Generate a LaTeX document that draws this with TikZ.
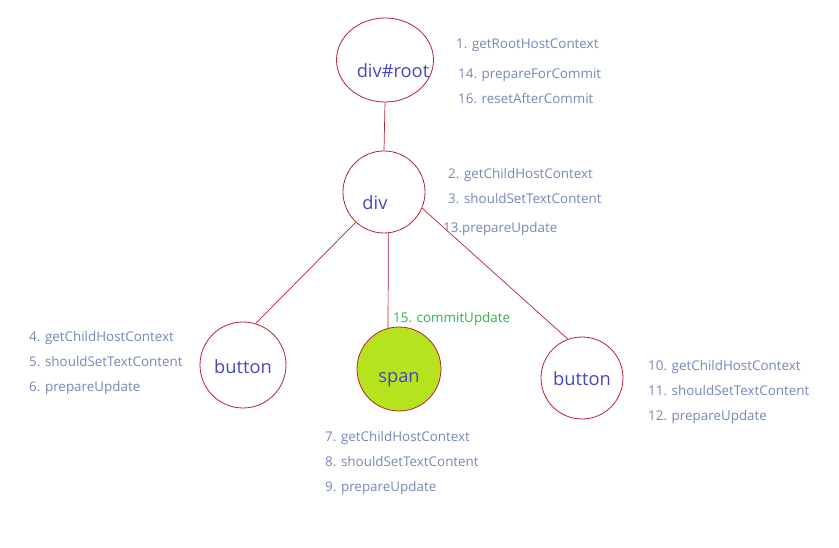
\documentclass[tikz,border=0pt]{standalone}
\usepackage{fontspec}
\setmainfont{Open Sans}
\usetikzlibrary{shapes.geometric}
\definecolor{edgered}{HTML}{B8213A}
\definecolor{nodeblue}{HTML}{4646C0}
\definecolor{lblgray}{HTML}{7488B8}
\definecolor{lblgreen}{HTML}{2DB34A}
\definecolor{spanfill}{HTML}{B5E31E}
\tikzset{
  tnode/.style={circle, draw=edgered, line width=0.8pt, inner sep=0pt, minimum size=#1},
  ntext/.style={text=nodeblue, font=\fontsize{18.3}{21}\selectfont},
  lbl/.style={anchor=west, text=lblgray, inner sep=0pt, text height=9.5pt, text depth=2.5pt, yshift=-2pt, font=\fontsize{13.4}{16}\selectfont},
  conn/.style={draw=edgered, line width=0.7pt},
}
\begin{document}
\begin{tikzpicture}[x=1pt,y=-1pt]
\useasboundingbox (0,0) rectangle (839,548);
\fill[white] (0,0) rectangle (839,548);
% nodes
\node[ellipse, draw=edgered, line width=0.8pt, inner sep=0pt, minimum width=97pt, minimum height=84pt,
      label={[ntext, xshift=8pt, yshift=-11pt]center:div\#root}] (root) at (385,60) {};
\node[tnode=82pt, label={[ntext, xshift=-9pt, yshift=-11pt]center:div}] (div) at (384,192) {};
\node[tnode=86pt, label={[ntext, yshift=-1.5pt]center:button}] (bl) at (243,365) {};
\node[tnode=84pt, fill=spanfill, label={[ntext, yshift=-11pt]center:span}] (sp) at (399,369) {};
\node[tnode=82pt, label={[ntext, yshift=-0.5pt]center:button}] (br) at (582,378) {};
% connectors
\draw[conn] (root.south) -- (div.north);
\draw[conn] (div.227) -- (bl.73);
\draw[conn] (div.-84) -- (sp.105);
\draw[conn] (div.-23) -- (br.110);
% labels
\node[lbl] (l1) at (456,43) {1. getRootHostContext};
\node[lbl] (l14) at (458,73) {14. prepareForCommit};
\node[lbl] (l16) at (458,98) {16. resetAfterCommit};
\node[lbl] (l2) at (448,173) {2. getChildHostContext};
\node[lbl] (l3) at (448,198) {3. shouldSetTextContent};
\node[lbl] (l13) at (443,227) {13.prepareUpdate};
\node[lbl] (l4) at (29,336) {4. getChildHostContext};
\node[lbl] (l5) at (29,361) {5. shouldSetTextContent};
\node[lbl] (l6) at (29,386) {6. prepareUpdate};
\node[lbl, text=lblgreen] (l15) at (393,317) {15. commitUpdate};
\node[lbl] (l7) at (325,436) {7. getChildHostContext};
\node[lbl] (l8) at (325,461) {8. shouldSetTextContent};
\node[lbl] (l9) at (325,486) {9. prepareUpdate};
\node[lbl] (l10) at (648,365) {10. getChildHostContext};
\node[lbl] (l11) at (648,390) {11. shouldSetTextContent};
\node[lbl] (l12) at (648,415) {12. prepareUpdate};
\end{tikzpicture}
\end{document}
